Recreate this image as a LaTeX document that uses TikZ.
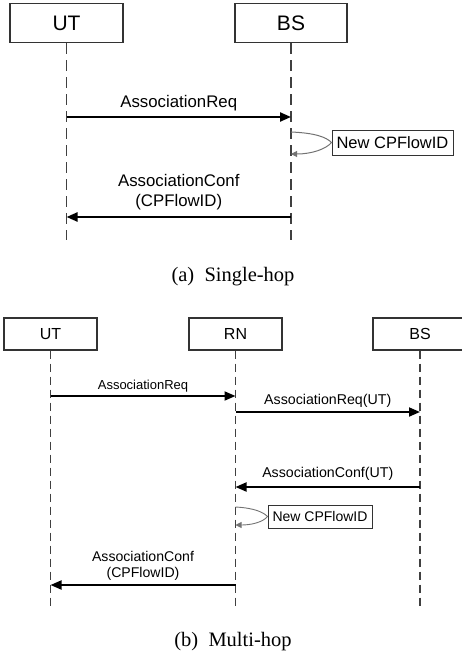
\documentclass[tikz,border=0pt]{standalone}
\usepackage{fontspec}
\setmainfont{Liberation Serif}
\setsansfont{Liberation Sans}
\usetikzlibrary{arrows.meta}

\begin{document}
\begin{tikzpicture}[x=1pt, y=-1pt, font=\sffamily]
    \tikzset{
      entity/.style={draw=black!80, line width=1.1pt, inner sep=0pt},
      lifeline/.style={draw=black!75, line width=1.4pt, dash pattern=on 11pt off 6pt},
      msg/.style={line width=2.2pt, -{Triangle[length=11pt,width=9pt]}},
      note/.style={draw=black!80, line width=0.9pt, inner sep=0pt},
      loopback/.style={draw=black!55, line width=1pt, -{Triangle[length=6pt,width=6pt]}},
      caption/.style={font=\rmfamily\fontsize{20.5}{24}\selectfont}
    }
    \useasboundingbox (0,0) rectangle (462,660);

    % (a) Single-hop - entities
    \node[entity, minimum width=113pt, minimum height=39pt, font=\sffamily\fontsize{21}{24}\selectfont] (utA) at (66.5, 23) {UT};
    \node[entity, minimum width=112pt, minimum height=39pt, font=\sffamily\fontsize{21}{24}\selectfont] (bsA) at (291, 23) {BS};

    % Lifelines
    \coordinate (utAend) at (66.5, 240);
    \coordinate (bsAend) at (291, 240);
    \draw[lifeline] (utA.south) -- (utAend);
    \draw[lifeline] (bsA.south) -- (bsAend);

    % Messages
    \coordinate (utA1) at (66.5, 117);
    \coordinate (bsA1) at (291, 117);
    \draw[msg] (utA1) -- (bsA1)
      node[midway, above=4pt, inner sep=1pt, font=\sffamily\fontsize{16.8}{20}\selectfont] {AssociationReq};

    \node[note, minimum width=121pt, minimum height=25pt, font=\sffamily\fontsize{16.5}{20}\selectfont] (noteA) at (392.5, 142.5) {New CPFlowID};
    \coordinate (bsA2) at (291, 132);
    \coordinate (bsA3) at (291, 154);
    \draw[loopback] (bsA2) .. controls (315,133) and (326,137) .. (noteA.west)
      .. controls (326,149) and (312,154) .. (bsA3);

    \coordinate (bsA4) at (291, 217);
    \coordinate (utA4) at (66.5, 217);
    \draw[msg] (bsA4) -- (utA4)
      node[midway, above=4.5pt, inner sep=1pt, align=center, font=\sffamily\fontsize{16.8}{20}\selectfont] {AssociationConf\\(CPFlowID)};

    \node[caption] (capA) at (233, 277) {(a)~~Single-hop};

    % (b) Multi-hop - entities
    \node[entity, minimum width=93pt, minimum height=32pt, font=\sffamily\fontsize{16}{19}\selectfont] (utB) at (50.5, 334) {UT};
    \node[entity, minimum width=93pt, minimum height=32pt, font=\sffamily\fontsize{16}{19}\selectfont] (rnB) at (235.5, 334) {RN};
    \node[entity, minimum width=94pt, minimum height=32pt, font=\sffamily\fontsize{16}{19}\selectfont] (bsB) at (420, 334) {BS};

    % Lifelines
    \coordinate (utBend) at (50.5, 609);
    \coordinate (rnBend) at (235.5, 609);
    \coordinate (bsBend) at (420, 609);
    \draw[lifeline, line width=1.2pt, dash pattern=on 8pt off 5pt] (utB.south) -- (utBend);
    \draw[lifeline, line width=1.2pt, dash pattern=on 8pt off 5pt] (rnB.south) -- (rnBend);
    \draw[lifeline, line width=1.2pt, dash pattern=on 8pt off 5pt] (bsB.south) -- (bsBend);

    % Messages
    \coordinate (utB1) at (50.5, 396);
    \coordinate (rnB1) at (235.5, 396);
    \draw[msg, line width=1.8pt] (utB1) -- (rnB1)
      node[midway, above=2pt, inner sep=1pt, font=\sffamily\fontsize{13}{15}\selectfont] {AssociationReq};

    \coordinate (rnB2) at (235.5, 412);
    \coordinate (bsB2) at (420, 412);
    \draw[msg, line width=1.8pt] (rnB2) -- (bsB2)
      node[midway, above=3pt, inner sep=1pt, font=\sffamily\fontsize{14.2}{17}\selectfont] {AssociationReq(UT)};

    \coordinate (bsB3) at (420, 487);
    \coordinate (rnB3) at (235.5, 487);
    \draw[msg, line width=1.8pt] (bsB3) -- (rnB3)
      node[midway, above=5pt, inner sep=1pt, font=\sffamily\fontsize{14.2}{17}\selectfont] {AssociationConf(UT)};

    \node[note, minimum width=104pt, minimum height=23pt, font=\sffamily\fontsize{14}{17}\selectfont] (noteB) at (320, 516.5) {New CPFlowID};
    \coordinate (rnB4) at (235.5, 507);
    \coordinate (rnB5) at (235.5, 525);
    \draw[loopback, line width=0.9pt] (rnB4) .. controls (254,508) and (263,512) .. (noteB.west)
      .. controls (263,522) and (252,525) .. (rnB5);

    \coordinate (rnB6) at (235.5, 585);
    \coordinate (utB6) at (50.5, 585);
    \draw[msg, line width=1.8pt] (rnB6) -- (utB6)
      node[midway, above=3pt, inner sep=1pt, align=center, font=\sffamily\fontsize{14.1}{16}\selectfont] {AssociationConf\\(CPFlowID)};

    \node[caption] (capB) at (233, 642) {(b)~~Multi-hop};
  \end{tikzpicture}
\end{document}
